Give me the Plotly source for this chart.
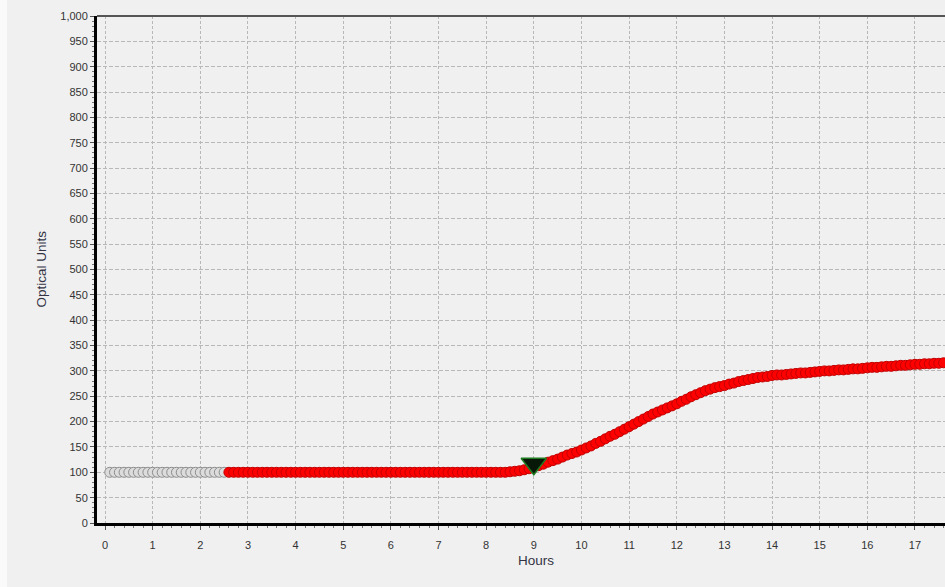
import plotly.graph_objects as go

# Baseline (grey) readings
baseline_hours = [0.1, 0.2, 0.3, 0.4, 0.5, 0.6, 0.7, 0.8, 0.9, 1.0,
                  1.1, 1.2, 1.3, 1.4, 1.5, 1.6, 1.7, 1.8, 1.9, 2.0,
                  2.1, 2.2, 2.3, 2.4, 2.5]
baseline_values = [100, 100, 100, 100, 100, 100, 100, 100, 100, 100,
                   100, 100, 100, 100, 100, 100, 100, 100, 100, 100,
                   100, 100, 100, 100, 100]

# Measured (red) readings
reading_hours = [2.6, 2.7, 2.8, 2.9,
                 3.0, 3.1, 3.2, 3.3, 3.4, 3.5, 3.6, 3.7, 3.8, 3.9,
                 4.0, 4.1, 4.2, 4.3, 4.4, 4.5, 4.6, 4.7, 4.8, 4.9,
                 5.0, 5.1, 5.2, 5.3, 5.4, 5.5, 5.6, 5.7, 5.8, 5.9,
                 6.0, 6.1, 6.2, 6.3, 6.4, 6.5, 6.6, 6.7, 6.8, 6.9,
                 7.0, 7.1, 7.2, 7.3, 7.4, 7.5, 7.6, 7.7, 7.8, 7.9,
                 8.0, 8.1, 8.2, 8.3, 8.4, 8.5, 8.6, 8.7, 8.8, 8.9,
                 9.0, 9.1, 9.2, 9.3, 9.4, 9.5, 9.6, 9.7, 9.8, 9.9,
                 10.0, 10.1, 10.2, 10.3, 10.4, 10.5, 10.6, 10.7, 10.8, 10.9,
                 11.0, 11.1, 11.2, 11.3, 11.4, 11.5, 11.6, 11.7, 11.8, 11.9,
                 12.0, 12.1, 12.2, 12.3, 12.4, 12.5, 12.6, 12.7, 12.8, 12.9,
                 13.0, 13.1, 13.2, 13.3, 13.4, 13.5, 13.6, 13.7, 13.8, 13.9,
                 14.0, 14.1, 14.2, 14.3, 14.4, 14.5, 14.6, 14.7, 14.8, 14.9,
                 15.0, 15.1, 15.2, 15.3, 15.4, 15.5, 15.6, 15.7, 15.8, 15.9,
                 16.0, 16.1, 16.2, 16.3, 16.4, 16.5, 16.6, 16.7, 16.8, 16.9,
                 17.0, 17.1, 17.2, 17.3, 17.4, 17.5, 17.6]
reading_values = [100, 100, 100, 100,
                  100, 100, 100, 100, 100, 100, 100, 100, 100, 100,
                  100, 100, 100, 100, 100, 100, 100, 100, 100, 100,
                  100, 100, 100, 100, 100, 100, 100, 100, 100, 100,
                  100, 100, 100, 100, 100, 100, 100, 100, 100, 100,
                  100, 100, 100, 100, 100, 100, 100, 100, 100, 100,
                  100, 100, 100, 100, 100, 101, 102, 103, 105, 107,
                  110, 113, 116, 120, 123, 126, 130, 134, 137, 140,
                  144, 148, 152, 157, 161, 166, 171, 175, 180, 185,
                  190, 195, 200, 205, 210, 215, 219, 223, 227, 231,
                  235, 240, 244, 249, 253, 257, 261, 264, 267, 269,
                  271, 274, 276, 279, 281, 283, 285, 287, 288, 289,
                  291, 292, 292, 293, 294, 295, 296, 296, 297, 298,
                  299, 300, 300, 301, 302, 302, 303, 304, 304, 305,
                  306, 307, 307, 308, 309, 309, 310, 311, 311, 312,
                  313, 313, 314, 314, 315, 315, 316]

# Detection marker
marker_hours = [9.0]
marker_values = [117]

x_ticks = [0, 1, 2, 3, 4, 5, 6, 7, 8, 9, 10, 11, 12, 13, 14, 15, 16, 17]
y_ticks = [0, 50, 100, 150, 200, 250, 300, 350, 400, 450, 500,
           550, 600, 650, 700, 750, 800, 850, 900, 950, 1000]

BG = "#f0f0f0"
FONT = "Liberation Sans, Arial, sans-serif"

fig = go.Figure()
fig.add_trace(go.Scatter(
    x=baseline_hours, y=baseline_values, mode="markers",
    marker=dict(size=10, color="#dcdcdc", line=dict(color="#8c8c8c", width=1)),
    showlegend=False, hoverinfo="x+y"))
fig.add_trace(go.Scatter(
    x=reading_hours, y=reading_values, mode="markers",
    marker=dict(size=10, color="#ff0000", line=dict(color="#c00000", width=1)),
    showlegend=False, hoverinfo="x+y"))
fig.add_trace(go.Scatter(
    x=marker_hours, y=marker_values, mode="markers",
    marker=dict(symbol="triangle-down", size=22, color="#081808",
                line=dict(color="#1f7a1f", width=1.5)),
    showlegend=False, hoverinfo="x+y"))

fig.update_xaxes(
    range=[-0.168, 17.63], tickvals=x_ticks, ticktext=[str(v) for v in x_ticks],
    showgrid=True, gridcolor="#b8b8b8", griddash="3px,2px", gridwidth=1,
    zeroline=False, showline=True, linecolor="#000000", linewidth=3,
    ticks="outside", ticklen=4, tickcolor="#555555", tickwidth=1,
    ticklabelstandoff=6,
    minor=dict(dtick=0.2, ticks="outside", ticklen=2, tickcolor="#777777", showgrid=False),
    tickfont=dict(family=FONT, size=11, color="#333333"))
fig.update_yaxes(
    range=[0, 1000], tickvals=y_ticks, tickformat=",",
    showgrid=True, gridcolor="#b8b8b8", griddash="4px,2px", gridwidth=1,
    zeroline=False, showline=True, linecolor="#000000", linewidth=3,
    ticks="outside", ticklen=4, tickcolor="#555555", tickwidth=1,
    ticklabelstandoff=0,
    minor=dict(dtick=10, ticks="outside", ticklen=2, tickcolor="#777777", showgrid=False),
    tickfont=dict(family=FONT, size=11, color="#333333"))

fig.update_layout(
    width=945, height=587,
    margin=dict(l=97, r=0, t=16, b=64),
    paper_bgcolor=BG, plot_bgcolor=BG,
    shapes=[
        dict(type="line", xref="paper", yref="paper", x0=0, x1=1, y0=1, y1=1,
             line=dict(color="#555555", width=2)),
        # light frame strip along the left edge of the window
        dict(type="rect", xref="paper", yref="paper", x0=-97 / 848, x1=-90 / 848,
             y0=-64 / 507, y1=1 + 16 / 507, line=dict(width=0), fillcolor="#fafafa",
             layer="below"),
    ],
    annotations=[
        dict(text="Hours", xref="paper", yref="paper", x=0.518, y=-0.074,
             showarrow=False, xanchor="center", yanchor="middle",
             font=dict(family=FONT, size=13.5, color="#333344")),
        dict(text="Optical Units", xref="paper", yref="paper", x=-0.066, y=0.5,
             showarrow=False, xanchor="center", yanchor="middle", textangle=-90,
             font=dict(family=FONT, size=13.5, color="#333344")),
    ],
)

fig.write_html(
    "out.html",
    config={"displayModeBar": False},
    post_script="document.body.style.margin='0';"
                "document.documentElement.style.overflow='hidden';",
)
